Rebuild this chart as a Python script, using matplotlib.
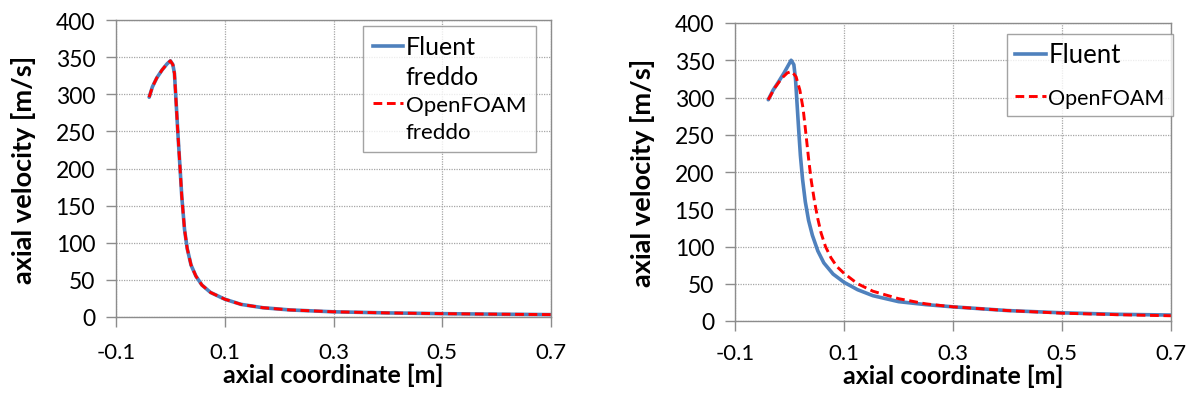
import matplotlib
matplotlib.use('Agg')
import matplotlib.pyplot as plt
from matplotlib.lines import Line2D

plt.rcParams['font.family'] = ['Lato', 'DejaVu Sans']

# 左图：冷态 (freddo)，两条曲线几乎重合
x_cold = [-0.039, -0.033, -0.025, -0.015, -0.006, 0.0, 0.0045, 0.0075, 0.0105,
          0.014, 0.0175, 0.021, 0.026, 0.031, 0.038, 0.047, 0.058, 0.074,
          0.1, 0.13, 0.17, 0.22, 0.3, 0.4, 0.5, 0.6, 0.7]
u_fluent_cold = [296, 310, 322, 333, 341, 345, 340, 328, 290,
                 245, 204, 162, 118, 92, 70, 55, 43, 33,
                 24, 17, 12.5, 9.5, 7, 5.5, 4.5, 3.8, 3.2]
u_openfoam_cold = [296, 310, 322, 333, 341, 345, 340, 328, 290,
                   245, 204, 162, 118, 92, 70, 55, 43, 33,
                   24, 17, 12.5, 9.5, 7, 5.5, 4.5, 3.8, 3.2]

# 右图：热态
x_fluent_hot = [-0.039, -0.03, -0.021, -0.01, 0.003, 0.008, 0.011, 0.014,
                0.017, 0.02, 0.024, 0.029, 0.035, 0.042, 0.052, 0.063,
                0.08, 0.1, 0.125, 0.153, 0.2, 0.25, 0.3, 0.4, 0.5, 0.6, 0.7]
u_fluent_hot = [297, 310, 320, 333, 350, 344, 325, 290,
                255, 222, 190, 160, 135, 115, 94, 78,
                63, 52, 42, 34, 26, 22, 19, 14, 11, 9, 8]
x_openfoam_hot = [-0.039, -0.027, -0.014, -0.004, 0.004, 0.012, 0.019, 0.025,
                  0.03, 0.035, 0.04, 0.046, 0.052, 0.058, 0.066, 0.076,
                  0.087, 0.1, 0.125, 0.153, 0.2, 0.25, 0.3, 0.4, 0.5, 0.6, 0.7]
u_openfoam_hot = [297, 313, 326, 333, 335, 328, 310, 285,
                  252, 218, 188, 160, 137, 118, 100, 85,
                  73, 64, 50, 40, 30, 23, 19, 14, 10.5, 8.5, 7]

x_ticks = [-0.1, 0.1, 0.3, 0.5, 0.7]
y_ticks = [0, 50, 100, 150, 200, 250, 300, 350, 400]

BLUE = '#4F81BD'
RED = '#FF0000'
EDGE = '#8C8C8C'

fig = plt.figure(figsize=(11.95, 4.02), dpi=100)
ax1 = fig.add_axes([116 / 1195, 84 / 402, 435 / 1195, 297 / 402])
ax2 = fig.add_axes([735 / 1195, 80 / 402, 436 / 1195, 298 / 402])


def style_axes(ax, xpad):
    ax.set_xlim(-0.1, 0.7)
    ax.set_ylim(0, 400)
    ax.set_xticks(x_ticks)
    ax.set_xticklabels([f'{t:g}' for t in x_ticks])
    ax.set_yticks(y_ticks)
    ax.grid(True, color='#A6A6A6', linestyle=(0, (1, 1)), linewidth=0.9)
    ax.set_axisbelow(True)
    for s in ax.spines.values():
        s.set_color(EDGE)
        s.set_linewidth(1.0)
    ax.tick_params(axis='y', direction='out', length=7, width=1.0,
                   color=EDGE, labelsize=16.5, pad=8)
    ax.tick_params(axis='x', direction='out', length=7.5, width=1.0,
                   color=EDGE, labelsize=16, pad=xpad)
    ax.set_xlabel('axial coordinate [m]', fontsize=18, fontweight='bold',
                  labelpad=0.5)
    ax.set_ylabel('axial velocity [m/s]', fontsize=19.5, fontweight='bold',
                  labelpad=14)


style_axes(ax1, 10.5)
style_axes(ax2, 8)

# 左图曲线
ax1.plot(x_cold, u_fluent_cold, color=BLUE, lw=2.6, solid_joinstyle='round',
         solid_capstyle='round')
ax1.plot(x_cold, u_openfoam_cold, color=RED, lw=2.1, dashes=(3, 1.6))

# 右图曲线
ax2.plot(x_fluent_hot, u_fluent_hot, color=BLUE, lw=2.6, solid_joinstyle='round',
         solid_capstyle='round')
ax2.plot(x_openfoam_hot, u_openfoam_hot, color=RED, lw=2.1, dashes=(3, 1.6))

blank = Line2D([], [], color='none')
h_blue = Line2D([], [], color=BLUE, lw=2.6)
h_red = Line2D([], [], color=RED, lw=2.1, dashes=(3, 1.6))

leg1 = ax1.legend([h_blue, blank, h_red, blank],
                  ['Fluent', 'freddo', 'OpenFOAM', 'freddo'],
                  loc='upper left', bbox_to_anchor=(0.568, 0.98),
                  frameon=True, fancybox=False, edgecolor=EDGE,
                  handlelength=1.3, handletextpad=0.1, borderpad=0.4,
                  labelspacing=0.28, fontsize=17, borderaxespad=0)
leg1.get_frame().set_linewidth(1.0)
for i, t in enumerate(leg1.get_texts()):
    t.set_fontsize(18 if i < 2 else 16)

leg2 = ax2.legend([h_blue, h_red], ['Fluent', 'OpenFOAM'],
                  loc='upper left', bbox_to_anchor=(0.624, 0.963),
                  frameon=True, fancybox=False, edgecolor=EDGE,
                  handlelength=1.3, handletextpad=0.1, borderpad=0.35,
                  labelspacing=0.85, fontsize=17, borderaxespad=0)
leg2.get_frame().set_linewidth(1.0)
for i, t in enumerate(leg2.get_texts()):
    t.set_fontsize(18.5 if i == 0 else 15.5)

fig.savefig('out.png', dpi=100, facecolor='white')
